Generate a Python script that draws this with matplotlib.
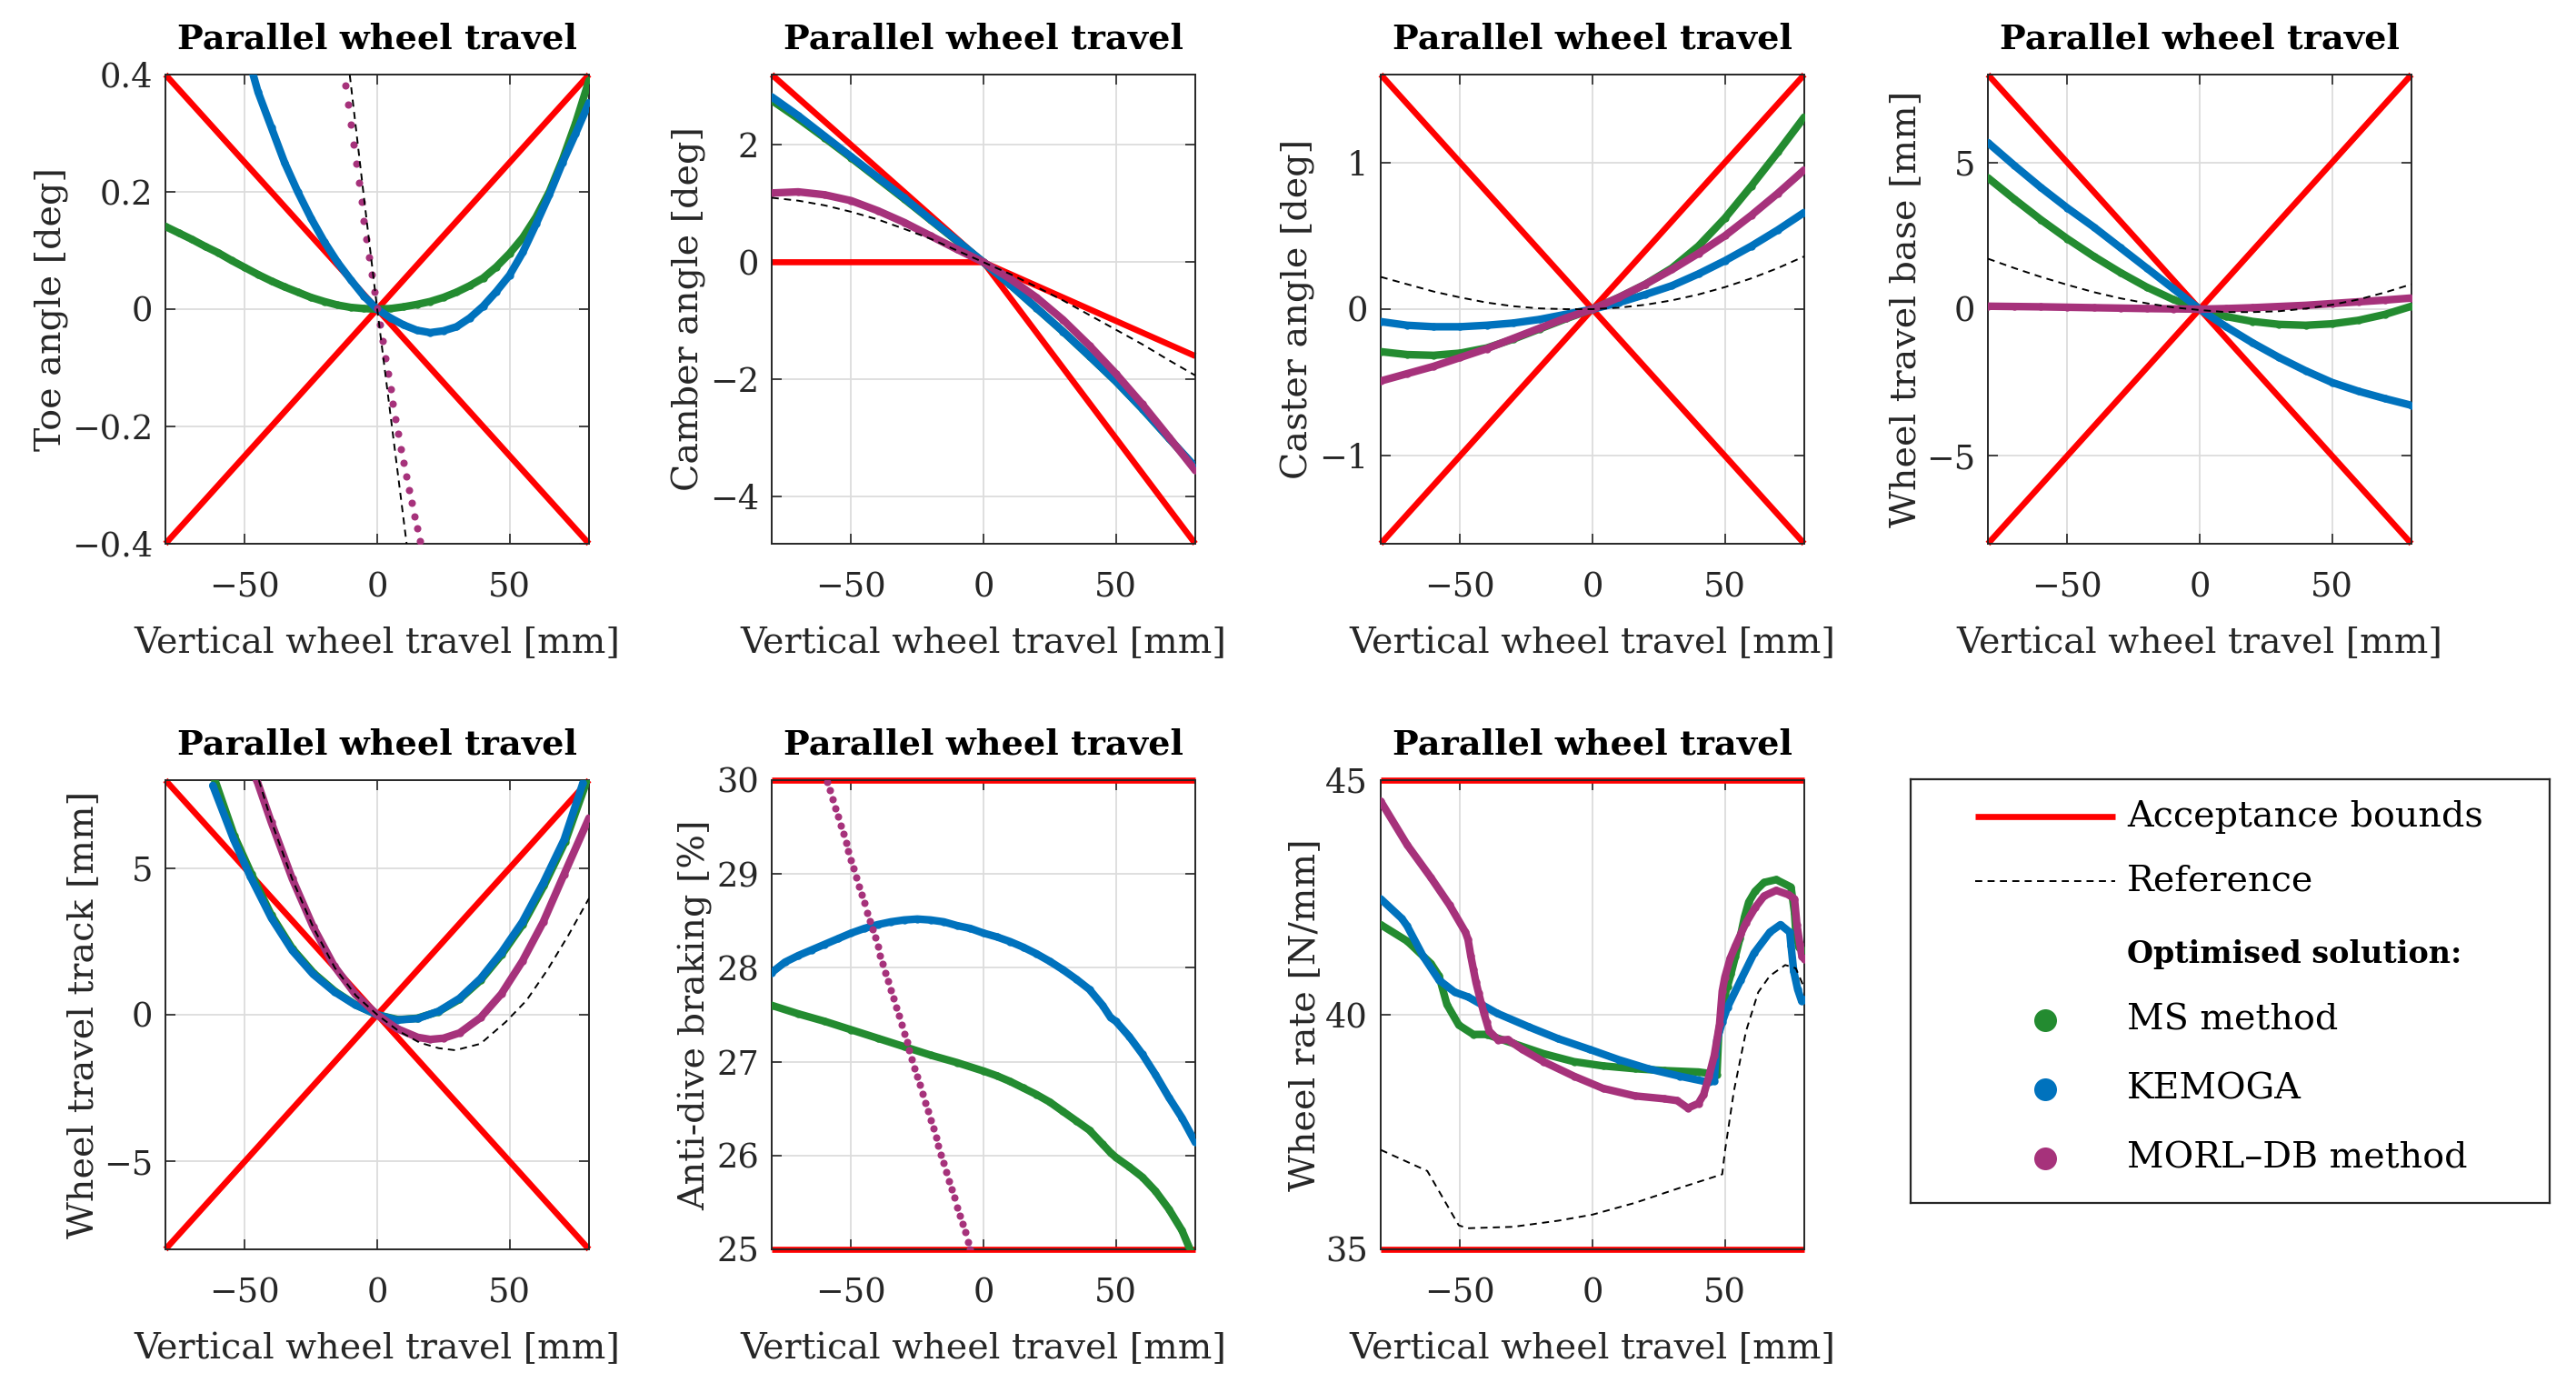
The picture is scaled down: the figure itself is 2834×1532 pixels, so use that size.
import matplotlib
matplotlib.use("Agg")
import matplotlib.pyplot as plt
from matplotlib.ticker import FuncFormatter

plt.rcParams["font.family"] = ["DejaVu Serif"]
plt.rcParams["font.size"] = 28.5

GREEN = "#238B30"
BLUE = "#0072BD"
MAGENTA = "#A6327B"
RED = "#FF0000"
DARK = "#262626"

# common x grids (vertical wheel travel, mm)
travel = [-80, -70, -60, -50, -40, -30, -20, -10, 0, 10, 20, 30, 40, 50, 60, 70, 80]
travel5 = [-80, -75, -70, -65, -60, -55, -50, -45, -40, -35, -30, -25, -20, -15, -10, -5,
           0, 5, 10, 15, 20, 25, 30, 35, 40, 45, 50, 55, 60, 65, 70, 75, 80]
bound_x = [-80, 0, 80]

# --- toe angle [deg]
toe_bound_a = [0.4, 0.0, -0.4]
toe_bound_b = [-0.4, 0.0, 0.4]
toe_ms = [0.141, 0.130, 0.119, 0.107, 0.096, 0.083, 0.071, 0.059, 0.048, 0.038, 0.029,
          0.020, 0.013, 0.007, 0.003, 0.001, 0.0, 0.001, 0.004, 0.008, 0.013, 0.020,
          0.029, 0.040, 0.053, 0.072, 0.095, 0.122, 0.157, 0.200, 0.255, 0.318, 0.39]
toe_kemoga_x = [-50, -45, -40, -35, -30, -25, -20, -15, -10, -5, 0, 5, 10, 15, 20, 25,
                30, 35, 40, 45, 50, 55, 60, 65, 70, 75, 80]
toe_kemoga = [0.45, 0.37, 0.31, 0.25, 0.20, 0.155, 0.115, 0.08, 0.05, 0.022, 0.0,
              -0.015, -0.027, -0.036, -0.04, -0.037, -0.03, -0.015, 0.005, 0.03, 0.058,
              0.097, 0.145, 0.195, 0.25, 0.30, 0.352]
toe_morl_x = list(range(-12, 17))
toe_morl = [0.382, 0.349, 0.315, 0.280, 0.248, 0.215, 0.183, 0.150, 0.119, 0.088,
            0.059, 0.030, 0.002, -0.027, -0.055, -0.083, -0.110, -0.136, -0.162,
            -0.187, -0.213, -0.238, -0.262, -0.285, -0.308, -0.331, -0.353,
            -0.374, -0.395]
toe_ref_x = [-12, -10, -5, 0, 5, 10, 12]
toe_ref = [0.462, 0.385, 0.19, 0.0, -0.18, -0.36, -0.432]

# --- camber angle [deg]
camber_upper = [3.2, 0.0, -1.6]
camber_lower = [0.0, 0.0, -4.8]
camber_ms = [2.76, 2.45, 2.12, 1.78, 1.43, 1.08, 0.72, 0.36, 0.0,
             -0.38, -0.78, -1.18, -1.6, -2.03, -2.5, -3.0, -3.5]
camber_kemoga = [2.82, 2.5, 2.15, 1.8, 1.45, 1.1, 0.73, 0.37, 0.0,
                 -0.38, -0.78, -1.18, -1.6, -2.03, -2.5, -3.0, -3.49]
camber_morl = [1.18, 1.2, 1.15, 1.05, 0.88, 0.68, 0.45, 0.22, 0.0,
               -0.28, -0.6, -0.98, -1.42, -1.9, -2.42, -2.98, -3.55]
camber_ref = [1.1, 1.05, 0.97, 0.86, 0.73, 0.57, 0.4, 0.2, 0.0,
              -0.2, -0.42, -0.65, -0.9, -1.15, -1.4, -1.67, -1.93]

# --- caster angle [deg]
caster_bound_a = [1.6, 0.0, -1.6]
caster_bound_b = [-1.6, 0.0, 1.6]
caster_ms = [-0.29, -0.31, -0.315, -0.30, -0.265, -0.205, -0.135, -0.065, 0.0,
             0.08, 0.17, 0.28, 0.43, 0.62, 0.84, 1.07, 1.31]
caster_kemoga = [-0.085, -0.11, -0.12, -0.12, -0.11, -0.095, -0.07, -0.035, 0.0,
                 0.045, 0.1, 0.16, 0.24, 0.33, 0.43, 0.54, 0.66]
caster_morl = [-0.49, -0.44, -0.39, -0.33, -0.27, -0.2, -0.13, -0.06, 0.0,
               0.08, 0.17, 0.27, 0.38, 0.5, 0.64, 0.79, 0.95]
caster_ref = [0.22, 0.17, 0.12, 0.08, 0.045, 0.02, 0.005, 0.0, 0.0,
              0.01, 0.03, 0.06, 0.1, 0.15, 0.21, 0.28, 0.36]

# --- wheel travel base [mm]
base_bound_a = [8.0, 0.0, -8.0]
base_bound_b = [-8.0, 0.0, 8.0]
base_ms = [4.48, 3.75, 3.05, 2.4, 1.8, 1.25, 0.75, 0.33, 0.0,
           -0.25, -0.42, -0.52, -0.55, -0.5, -0.38, -0.18, 0.1]
base_kemoga = [5.68, 4.9, 4.15, 3.45, 2.8, 2.1, 1.4, 0.7, 0.0,
               -0.6, -1.15, -1.65, -2.1, -2.5, -2.8, -3.05, -3.28]
base_morl = [0.1, 0.09, 0.08, 0.065, 0.05, 0.035, 0.02, 0.01, 0.0,
             0.02, 0.05, 0.09, 0.13, 0.19, 0.25, 0.31, 0.38]
base_ref = [1.72, 1.4, 1.1, 0.83, 0.58, 0.37, 0.2, 0.06, -0.03,
            -0.1, -0.1, -0.07, 0.02, 0.15, 0.33, 0.57, 0.85]

# --- wheel travel track [mm]
track_bound_a = [8.0, 0.0, -8.0]
track_bound_b = [-8.0, 0.0, 8.0]
track_ms_x = [-61.3, -54, -47.5, -40, -32, -24, -16, -8, 0, 8, 15, 23, 31, 39, 47,
              55, 63, 71, 79.3]
track_ms = [8.0, 6.1, 4.8, 3.4, 2.25, 1.42, 0.8, 0.33, 0.0, -0.17, -0.12, 0.1, 0.52,
            1.17, 2.05, 3.08, 4.4, 5.9, 8.0]
track_kemoga_x = [-62.1, -54.2, -47.9, -40, -32.1, -24.2, -16.3, -8.4, 0, 7.4, 15.3,
                  23.2, 31.1, 39, 46.9, 54.8, 62.7, 70.6, 77.7]
track_kemoga = [7.82, 5.97, 4.71, 3.3, 2.19, 1.38, 0.79, 0.34, 0.0, -0.18, -0.13, 0.12,
                0.56, 1.23, 2.12, 3.16, 4.49, 5.97, 7.9]
track_morl_x = [-45.5, -40, -32.1, -24.2, -16.3, -8.4, 0, 7.4, 15.3, 20, 25, 31.1, 39,
                46.9, 54.8, 62.7, 70.6, 80]
track_morl = [8.0, 6.56, 4.64, 3.0, 1.67, 0.71, 0.0, -0.47, -0.77, -0.84, -0.8, -0.62,
              -0.1, 0.71, 1.82, 3.16, 4.79, 6.71]
track_ref_x = [-44.7, -40, -32, -24, -16, -8, 0, 8, 16, 23.2, 29.5, 39, 48.5, 56.4,
               64.3, 72.2, 80]
track_ref = [8.0, 6.6, 4.6, 2.95, 1.6, 0.65, 0.0, -0.55, -0.95, -1.14, -1.21, -0.99,
             -0.25, 0.49, 1.53, 2.71, 3.97]

# --- anti-dive braking [%]
dive_upper = [30.0, 30.0]
dive_lower = [25.0, 25.0]
dive_ms_x = [-80, -70, -60, -50, -40, -30, -20, -10, 0, 5, 10, 15, 20, 25, 30, 35, 40,
             45, 48, 50, 55, 60, 65, 70, 75, 78]
dive_ms = [27.6, 27.51, 27.43, 27.34, 27.25, 27.16, 27.07, 26.99, 26.9, 26.85, 26.79,
           26.72, 26.65, 26.57, 26.47, 26.37, 26.27, 26.12, 26.03, 25.98, 25.88, 25.77,
           25.62, 25.43, 25.2, 25.0]
dive_kemoga_x = [-80, -75, -70, -65, -60, -55, -50, -45, -40, -35, -30, -25, -20, -15,
                 -10, -5, 0, 5, 10, 15, 20, 25, 30, 35, 40, 45, 48, 50, 55, 60, 65, 70,
                 75, 80]
dive_kemoga = [27.95, 28.06, 28.13, 28.19, 28.25, 28.31, 28.37, 28.42, 28.46, 28.49,
               28.51, 28.52, 28.51, 28.49, 28.45, 28.42, 28.37, 28.33, 28.28, 28.22,
               28.15, 28.07, 27.98, 27.88, 27.77, 27.6, 27.47, 27.43, 27.27, 27.08,
               26.86, 26.62, 26.4, 26.14]
dive_morl_x = list(range(-59, -4))
dive_morl = [29.98, 29.89, 29.80, 29.70, 29.61, 29.52, 29.43, 29.33, 29.24, 29.15,
             29.06, 28.96, 28.87, 28.78, 28.69, 28.59, 28.50, 28.41, 28.32, 28.23,
             28.13, 28.04, 27.95, 27.86, 27.76, 27.67, 27.58, 27.49, 27.39, 27.30,
             27.21, 27.12, 27.03, 26.93, 26.84, 26.75, 26.66, 26.56, 26.47, 26.38,
             26.29, 26.19, 26.10, 26.01, 25.92, 25.82, 25.73, 25.64, 25.55, 25.45,
             25.36, 25.27, 25.18, 25.08, 25.0]

# --- wheel rate [N/mm]
rate_upper = [45.0, 45.0]
rate_lower = [35.0, 35.0]
rate_ms_x = [-80, -70, -61, -58, -55, -50.5, -45, -40, -30, -18.5, -7, 4, 16, 27, 40,
             44, 47, 47.7, 49, 50, 51, 52.3, 54, 55.7, 57.4, 59, 61.4, 64.8, 69.4,
             75, 76.3, 76.8, 78, 80]
rate_ms = [41.92, 41.57, 41.09, 40.83, 40.22, 39.78, 39.58, 39.58, 39.39, 39.17,
           39.0, 38.91, 38.85, 38.81, 38.78, 38.75, 38.72, 39.65, 40.1, 40.42,
           40.61, 40.87, 41.25, 41.63, 42.08, 42.4, 42.63, 42.82, 42.88, 42.72,
           42.18, 41.76, 41.44, 41.38]
rate_kemoga_x = [-80, -72, -70, -64, -58, -52, -47, -36, -24, -13, -1, 10, 21, 33, 44,
                 46, 47, 49, 51, 56, 61, 67, 71, 74.5, 75, 76, 77.5, 79, 80]
rate_kemoga = [42.47, 42.05, 41.89, 41.25, 40.74, 40.48, 40.38, 40.03, 39.74, 39.49,
               39.26, 39.04, 38.85, 38.69, 38.56, 38.59, 39.46, 39.84, 40.16, 40.74,
               41.31, 41.76, 41.92, 41.76, 41.47, 40.93, 40.54, 40.29, 40.32]
rate_morl_x = [-80, -70, -61, -54, -48, -47, -46, -45, -44, -43, -42, -41, -40, -39,
               -35.6, -32, -26.5, -18.5, -7, 4, 16, 27, 32, 36, 40, 42, 44, 46, 48,
               49, 50, 52, 54, 56, 58, 61.4, 64.8, 69.4, 74, 76.3, 77.2, 78.3, 79.1, 80]
rate_morl = [44.55, 43.62, 42.92, 42.34, 41.76, 41.6, 41.26, 40.97, 40.69, 40.46,
             40.24, 40.03, 39.84, 39.65, 39.46, 39.47, 39.26, 39.0, 38.69, 38.43,
             38.27, 38.21, 38.17, 38.01, 38.11, 38.3, 38.69, 39.13, 39.8, 40.5,
             40.8, 41.2, 41.47, 41.72, 41.96, 42.28, 42.53, 42.65, 42.56, 42.47,
             41.92, 41.51, 41.25, 41.19]
rate_ref_x = [-80, -62.4, -50.5, -47, -30, -13, 0, 16, 33, 49, 50, 53.4, 58, 62.6, 67,
              72.8, 76.8, 79.7]
rate_ref = [37.12, 36.67, 35.51, 35.45, 35.48, 35.61, 35.74, 35.99, 36.31, 36.6,
            37.08, 38.37, 39.65, 40.48, 40.83, 41.06, 40.99, 40.61]

W, H = 2834, 1532
fig = plt.figure(figsize=(W / 100, H / 100), dpi=100)

col_left = [182, 849, 1519, 2187]
row_top = [82, 858]
ax_w, ax_h = 466, 516


def make_axes(row, col):
    x0 = col_left[col] / W
    y0 = 1 - (row_top[row] + ax_h) / H
    return fig.add_axes([x0, y0, ax_w / W, ax_h / H])


def fmt(v, pos):
    return f"{v:g}".replace("-", "\u2212")


def style(ax, ylim, yticks, ylabel):
    ax.set_xlim(-80, 80)
    ax.set_ylim(*ylim)
    ax.set_xticks([-50, 0, 50])
    ax.set_yticks(yticks)
    ax.xaxis.set_major_formatter(FuncFormatter(fmt))
    ax.yaxis.set_major_formatter(FuncFormatter(fmt))
    ax.grid(True, color="#dcdcdc", lw=1.3)
    ax.set_axisbelow(True)
    ax.tick_params(direction="in", top=True, right=True, length=8, width=1.2,
                   colors=DARK, labelsize=26.5)
    ax.tick_params(axis="x", pad=22)
    ax.tick_params(axis="y", pad=10)
    for s in ax.spines.values():
        s.set_color(DARK)
        s.set_linewidth(1.4)
    ax.set_title("Parallel wheel travel", fontweight="bold", fontsize=27.5,
                 pad=20.5, color="black")
    ax.set_xlabel("Vertical wheel travel [mm]", color=DARK, labelpad=18)
    ax.set_ylabel(ylabel, color=DARK, labelpad=3)


def bounds(ax, x, *ys):
    for y in ys:
        ax.plot(x, y, color=RED, lw=4.8, solid_capstyle="butt", zorder=2, clip_on=False)


def curve(ax, x, y, color, z):
    ax.plot(x, y, color=color, lw=6.0, marker="o", ms=6.0, mec="none",
            solid_capstyle="round", solid_joinstyle="round", zorder=z)


def dots(ax, x, y, color, z):
    ax.plot(x, y, ls="none", marker="o", ms=5.8, mec="none", color=color, zorder=z)


def ref(ax, x, y):
    ax.plot(x, y, color="black", lw=1.4, dashes=(4, 3), zorder=6)


# row 1
ax = make_axes(0, 0)
bounds(ax, bound_x, toe_bound_a, toe_bound_b)
curve(ax, travel5, toe_ms, GREEN, 3)
curve(ax, toe_kemoga_x, toe_kemoga, BLUE, 4)
dots(ax, toe_morl_x, toe_morl, MAGENTA, 5)
ref(ax, toe_ref_x, toe_ref)
style(ax, (-0.4, 0.4), [-0.4, -0.2, 0, 0.2, 0.4], "Toe angle [deg]")

ax = make_axes(0, 1)
bounds(ax, bound_x, camber_upper, camber_lower)
curve(ax, travel, camber_ms, GREEN, 3)
curve(ax, travel, camber_kemoga, BLUE, 4)
curve(ax, travel, camber_morl, MAGENTA, 5)
ref(ax, travel, camber_ref)
style(ax, (-4.8, 3.2), [-4, -2, 0, 2], "Camber angle [deg]")

ax = make_axes(0, 2)
bounds(ax, bound_x, caster_bound_a, caster_bound_b)
curve(ax, travel, caster_ms, GREEN, 3)
curve(ax, travel, caster_kemoga, BLUE, 4)
curve(ax, travel, caster_morl, MAGENTA, 5)
ref(ax, travel, caster_ref)
style(ax, (-1.6, 1.6), [-1, 0, 1], "Caster angle [deg]")

ax = make_axes(0, 3)
bounds(ax, bound_x, base_bound_a, base_bound_b)
curve(ax, travel, base_ms, GREEN, 3)
curve(ax, travel, base_kemoga, BLUE, 4)
curve(ax, travel, base_morl, MAGENTA, 5)
ref(ax, travel, base_ref)
style(ax, (-8, 8), [-5, 0, 5], "Wheel travel base [mm]")

# row 2
ax = make_axes(1, 0)
bounds(ax, bound_x, track_bound_a, track_bound_b)
curve(ax, track_ms_x, track_ms, GREEN, 3)
curve(ax, track_kemoga_x, track_kemoga, BLUE, 4)
curve(ax, track_morl_x, track_morl, MAGENTA, 5)
ref(ax, track_ref_x, track_ref)
style(ax, (-8, 8), [-5, 0, 5], "Wheel travel track [mm]")

ax = make_axes(1, 1)
bounds(ax, [-80, 80], dive_upper, dive_lower)
curve(ax, dive_ms_x, dive_ms, GREEN, 3)
curve(ax, dive_kemoga_x, dive_kemoga, BLUE, 4)
dots(ax, dive_morl_x, dive_morl, MAGENTA, 5)
style(ax, (25, 30), [25, 26, 27, 28, 29, 30], "Anti-dive braking [%]")

ax = make_axes(1, 2)
bounds(ax, [-80, 80], rate_upper, rate_lower)
curve(ax, rate_ms_x, rate_ms, GREEN, 3)
curve(ax, rate_kemoga_x, rate_kemoga, BLUE, 4)
curve(ax, rate_morl_x, rate_morl, MAGENTA, 5)
ref(ax, rate_ref_x, rate_ref)
style(ax, (35, 45), [35, 40, 45], "Wheel rate [N/mm]")

# legend panel
lx0, ly0, lx1, ly1 = 2102, 857, 2805, 1323
lax = fig.add_axes([lx0 / W, 1 - ly1 / H, (lx1 - lx0) / W, (ly1 - ly0) / H])
lax.set_xlim(0, 1)
lax.set_ylim(0, 1)
lax.set_xticks([])
lax.set_yticks([])
for s in lax.spines.values():
    s.set_color(DARK)
    s.set_linewidth(1.6)

rows = [0.912, 0.760, 0.586, 0.431, 0.268, 0.105]
hx = [0.101, 0.320]
tx = 0.339
lax.plot(hx, [rows[0]] * 2, color=RED, lw=4.8, solid_capstyle="butt")
lax.plot(hx, [rows[1]] * 2, color="black", lw=1.4, dashes=(4, 3))
for r, c in zip(rows[3:], [GREEN, BLUE, MAGENTA]):
    lax.plot([sum(hx) / 2], [r], "o", color=c, ms=18, mec="none")
labels = ["Acceptance bounds", "Reference", "Optimised solution:",
          "MS method", "KEMOGA", "MORL\u2013DB method"]
for i, (r, t) in enumerate(zip(rows, labels)):
    lax.text(tx, r, t, va="center", ha="left", color="black",
             fontweight="bold" if i == 2 else "normal",
             fontsize=24 if i == 2 else 28.5)

fig.savefig("out.png", dpi=100, facecolor="white")
